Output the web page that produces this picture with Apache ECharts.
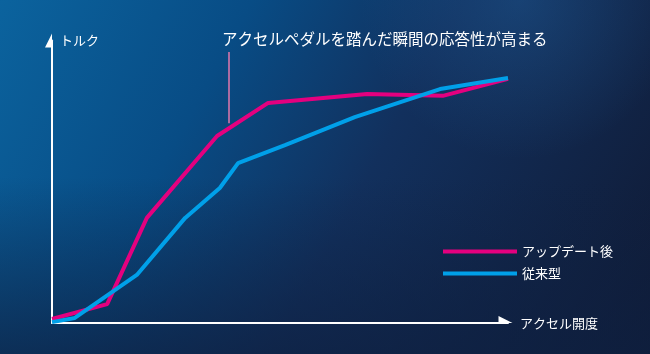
<!DOCTYPE html>
<html>
<head>
<meta charset="utf-8">
<script src="https://cdn.jsdelivr.net/npm/echarts@6/dist/echarts.min.js"></script>
<style>
  html, body { margin: 0; padding: 0; background: #0f2a50; }
  #chart { width: 650px; height: 354px; }
</style>
</head>
<body>
<div id="chart"></div>
<script>
// Torque response vs accelerator opening (relative units, 0-100)
const seriesNames = ['アップデート後', '従来型'];

const updatedX = [0, 12.1, 20.8, 36.2, 47.4, 69.1, 85.7, 100];
const updatedY = [1.4, 6.7, 37.2, 66.2, 77.9, 81.1, 80.4, 86.4];

const legacyX = [0, 5.0, 18.6, 29.2, 36.8, 40.8, 51.1, 66.4, 85.1, 100];
const legacyY = [0.3, 1.8, 17.0, 37.2, 47.8, 56.6, 63.0, 72.9, 82.8, 86.7];

const axisNames = { x: 'アクセル開度', y: 'トルク' };
const headline = 'アクセルペダルを踏んだ瞬間の応答性が高まる';
const calloutX = 38.8;
const calloutY = [70.7, 95.9];

const pink = '#e4007f';
const blue = '#00a0e9';
const font = '"Noto Sans CJK JP", "Noto Sans", sans-serif';

const pairs = (xs, ys) => xs.map((x, i) => [x, ys[i]]);

// half arrowhead: filled on one side of the axis line only
const halfArrow = 'path://M10,0L10,20L0,20Z M20,20';

const chart = echarts.init(document.getElementById('chart'), null, { renderer: 'canvas' });

chart.setOption({
  backgroundColor: {
    type: 'linear', x: 0, y: 0, x2: 1, y2: 1,
    colorStops: [
      { offset: 0, color: '#0b639e' },
      { offset: 0.3, color: '#084c85' },
      { offset: 0.55, color: '#12305d' },
      { offset: 1, color: '#101a34' }
    ]
  },
  graphic: [{
    type: 'rect',
    z: -10,
    silent: true,
    shape: { x: 0, y: 0, width: 650, height: 354 },
    style: {
      fill: {
        type: 'radial', x: 0.8, y: 0, r: 0.45,
        colorStops: [
          { offset: 0, color: 'rgba(35,105,170,0.35)' },
          { offset: 1, color: 'rgba(35,105,170,0)' }
        ]
      }
    }
  }, {
    type: 'rect',
    z: -10,
    silent: true,
    shape: { x: 0, y: 0, width: 650, height: 354 },
    style: {
      fill: {
        type: 'linear', x: 0, y: 0, x2: 0, y2: 1,
        colorStops: [
          { offset: 0, color: 'rgba(14,32,65,0)' },
          { offset: 0.5, color: 'rgba(14,32,65,0)' },
          { offset: 1, color: 'rgba(14,32,65,0.7)' }
        ]
      }
    }
  }],
  title: {
    text: headline,
    left: 217,
    top: 26,
    textStyle: { color: '#ffffff', fontSize: 15.5, fontWeight: 'normal', fontFamily: font }
  },
  legend: {
    orient: 'vertical',
    left: 438,
    top: 240,
    icon: 'rect',
    itemWidth: 74,
    itemHeight: 4,
    itemGap: 9,
    data: seriesNames,
    textStyle: { color: '#ffffff', fontSize: 13, fontFamily: font }
  },
  grid: { left: 52, right: 142, top: 40.5, bottom: 31, containLabel: false },
  xAxis: {
    type: 'value',
    min: 0,
    max: 100,
    name: axisNames.x,
    nameLocation: 'end',
    nameGap: 12,
    nameTextStyle: {
      color: '#ffffff', fontSize: 13, fontFamily: font,
      verticalAlign: 'middle', padding: [0, 0, 4, 0]
    },
    axisLine: {
      show: true,
      symbol: ['none', halfArrow],
      symbolSize: [14, 15],
      symbolOffset: [0, -2.5],
      lineStyle: { color: '#ffffff', width: 2 }
    },
    axisTick: { show: false },
    axisLabel: { show: false },
    splitLine: { show: false }
  },
  yAxis: {
    type: 'value',
    min: 0,
    max: 100,
    name: axisNames.y,
    nameLocation: 'end',
    nameGap: 0,
    nameTextStyle: {
      color: '#ffffff', fontSize: 13, fontFamily: font,
      align: 'left', verticalAlign: 'middle', padding: [0, 0, 0, 8]
    },
    axisLine: {
      show: true,
      symbol: ['none', halfArrow],
      symbolSize: [14, 15],
      lineStyle: { color: '#ffffff', width: 2 }
    },
    axisTick: { show: false },
    axisLabel: { show: false },
    splitLine: { show: false }
  },
  series: [{
    name: seriesNames[0],
    type: 'line',
    data: pairs(updatedX, updatedY),
    showSymbol: false,
    symbol: 'none',
    clip: false,
    z: 3,
    color: pink,
    lineStyle: { color: pink, width: 4 },
    markLine: {
      silent: true,
      symbol: ['none', 'none'],
      label: { show: false },
      lineStyle: { color: '#e277ad', width: 1.5, type: 'solid' },
      data: [[{ coord: [calloutX, calloutY[0]] }, { coord: [calloutX, calloutY[1]] }]]
    }
  }, {
    name: seriesNames[1],
    type: 'line',
    data: pairs(legacyX, legacyY),
    showSymbol: false,
    symbol: 'none',
    clip: false,
    z: 4,
    color: blue,
    lineStyle: { color: blue, width: 4 }
  }]
});
</script>
</body>
</html>
